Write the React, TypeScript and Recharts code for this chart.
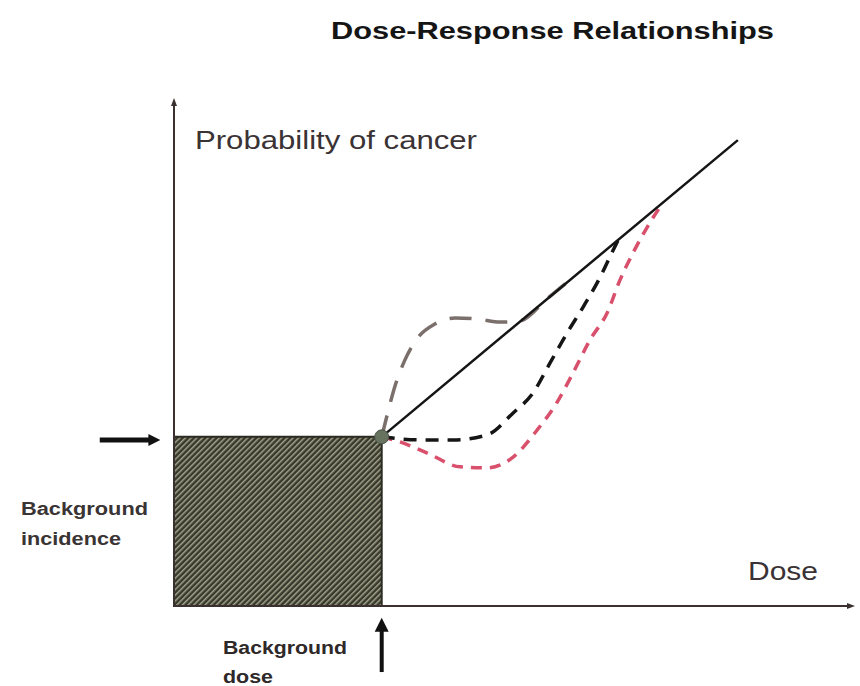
import { ComposedChart, Line, XAxis, YAxis, ReferenceArea, ReferenceDot, ReferenceLine } from "recharts";

// background point (dose, probability)
const bgDose = 30.5;
const bgResp = 33.3;

// linear no-threshold
const linearDose = [30.5, 82.8];
const linearResp = [33.3, 91.7];

// supralinear (grey long dash)
const supraDose = [30.5, 31.3, 32.5, 33.9, 35.8, 38.3, 41.3, 44.6, 47.9, 50.8, 54.8, 58.9];
const supraResp = [33.3, 37.6, 43.5, 48.4, 52.8, 55.5, 56.7, 56.5, 55.9, 56.1, 60.5, 65.0];

// threshold (black dash)
const threshDose = [30.5, 36.1, 41.0, 46.0, 49.8, 52.7, 55.2, 57.7, 60.1, 62.6, 64.5, 65.2];
const threshResp = [33.3, 32.7, 32.7, 33.7, 38.0, 41.9, 47.8, 53.7, 58.9, 64.8, 70.1, 72.0];

// hormesis (red dash)
const hormDose = [30.5, 33.2, 37.2, 42.0, 46.0, 49.8, 53.3, 56.2, 58.6, 61.1, 63.6, 65.5, 67.4, 69.5, 71.8];
const hormResp = [33.3, 32.3, 30.1, 27.4, 27.2, 29.3, 34.6, 40.0, 45.9, 52.4, 57.7, 64.2, 69.5, 74.6, 79.4];

const toRows = (xs: number[], ys: number[]) => xs.map((d, i) => ({ dose: d, resp: ys[i] }));

const FONT = "'Liberation Sans', Arial, Helvetica, sans-serif";

const arrow = (w: number, headLen: number, headW: number, color: string) => (props: any) => {
  const { x1, y1, x2, y2 } = props;
  const dx = x2 - x1;
  const dy = y2 - y1;
  const len = Math.hypot(dx, dy) || 1;
  const ux = dx / len;
  const uy = dy / len;
  const bx = x2 - ux * headLen;
  const by = y2 - uy * headLen;
  const px = -uy;
  const py = ux;
  return (
    <g>
      <line x1={x1} y1={y1} x2={bx + ux} y2={by + uy} stroke={color} strokeWidth={w} />
      <polygon
        points={`${x2},${y2} ${bx + px * headW},${by + py * headW} ${bx - px * headW},${by - py * headW}`}
        fill={color}
      />
    </g>
  );
};

export default function App() {
  return (
    <div style={{ position: "absolute", left: 0, top: 0, width: 860, height: 686, background: "#fff" }}>
      <ComposedChart width={860} height={686} margin={{ top: 98, right: 5, bottom: 80, left: 174 }}>
        <defs>
          <pattern id="hatch" width="4" height="4" patternUnits="userSpaceOnUse" patternTransform="rotate(45)">
            <rect width="4" height="4" fill="#37382b" />
            <rect x="0" y="0" width="1.5" height="4" fill="#a3a38c" />
          </pattern>
        </defs>
        <XAxis dataKey="dose" type="number" domain={[0, 100]} allowDataOverflow hide />
        <YAxis type="number" domain={[0, 100]} allowDataOverflow hide />

        <ReferenceArea x1={0} x2={bgDose} y1={0} y2={bgResp} fill="url(#hatch)" fillOpacity={1} stroke="#2b2b22" strokeWidth={2} />

        {/* axes */}
        <ReferenceLine segment={[{ x: 0, y: 0 }, { x: 0, y: 100 }]} ifOverflow="visible" shape={arrow(2, 8, 3, "#3a3030")} />
        <ReferenceLine segment={[{ x: 0, y: 0 }, { x: 100, y: 0 }]} ifOverflow="visible" shape={arrow(2, 8, 3, "#3a3030")} />

        {/* pointer arrows */}
        <ReferenceLine segment={[{ x: -10.9, y: 32.7 }, { x: -2.0, y: 32.7 }]} ifOverflow="visible" shape={arrow(5, 12, 6, "#111")} />
        <ReferenceLine segment={[{ x: bgDose, y: -13 }, { x: bgDose, y: -2.3 }]} ifOverflow="visible" shape={arrow(4, 14, 7, "#111")} />

        <Line data={toRows(supraDose, supraResp)} dataKey="resp" type="monotone" stroke="#7b6f6c" strokeWidth={3.5} strokeDasharray="22 14" dot={false} isAnimationActive={false} />
        <Line data={toRows(hormDose, hormResp)} dataKey="resp" type="monotone" stroke="#d8506c" strokeWidth={3.5} strokeDasharray="11 8" dot={false} isAnimationActive={false} />
        <Line data={toRows(threshDose, threshResp)} dataKey="resp" type="monotone" stroke="#151515" strokeWidth={3.5} strokeDasharray="13 9" dot={false} isAnimationActive={false} />
        <Line data={toRows(linearDose, linearResp)} dataKey="resp" type="linear" stroke="#151515" strokeWidth={2.5} dot={false} isAnimationActive={false} />

        <ReferenceDot x={bgDose} y={bgResp} r={7} fill="#67725f" stroke="#4d554a" strokeWidth={1} ifOverflow="visible" />

        <text x={331} y={39} fontFamily={FONT} fontSize={23} fontWeight="bold" fill="#151515" textLength={443} lengthAdjust="spacingAndGlyphs">
          Dose-Response Relationships
        </text>
        <text x={195} y={149} fontFamily={FONT} fontSize={25} fill="#3a3234" textLength={282} lengthAdjust="spacingAndGlyphs">
          Probability of cancer
        </text>
        <text x={748} y={580} fontFamily={FONT} fontSize={25} fill="#3a3234" textLength={70} lengthAdjust="spacingAndGlyphs">
          Dose
        </text>
        <text x={21} y={515} fontFamily={FONT} fontSize={18} fontWeight="bold" fill="#3a3434" textLength={127} lengthAdjust="spacingAndGlyphs">
          Background
        </text>
        <text x={21} y={545} fontFamily={FONT} fontSize={18} fontWeight="bold" fill="#3a3434" textLength={100} lengthAdjust="spacingAndGlyphs">
          incidence
        </text>
        <text x={223} y={654} fontFamily={FONT} fontSize={18} fontWeight="bold" fill="#2e2828" textLength={124} lengthAdjust="spacingAndGlyphs">
          Background
        </text>
        <text x={223} y={683} fontFamily={FONT} fontSize={18} fontWeight="bold" fill="#2e2828" textLength={50} lengthAdjust="spacingAndGlyphs">
          dose
        </text>
      </ComposedChart>
    </div>
  );
}
